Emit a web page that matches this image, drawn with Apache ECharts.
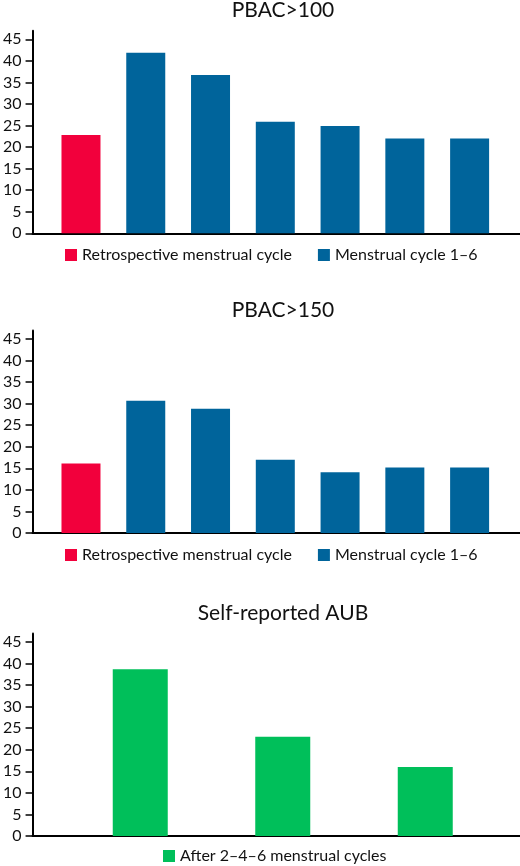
<!DOCTYPE html>
<html>
<head>
<meta charset="utf-8">
<script src="https://cdn.jsdelivr.net/npm/echarts@6/dist/echarts.min.js"></script>
<style>
html, body { margin: 0; padding: 0; background: #fff; }
#main { width: 520px; height: 866px; }
</style>
</head>
<body>
<div id="main"></div>
<script>
// values (percent of women)
var panelTitles = ['PBAC>100', 'PBAC>150', 'Self-reported AUB'];
var cycleCats = ['Retrospective', '1', '2', '3', '4', '5', '6'];
var pbac100 = [22.8, 41.9, 36.7, 25.9, 24.9, 22, 22];
var pbac150 = [16.1, 30.7, 28.8, 17.0, 14.1, 15.2, 15.2];
var aubCats = ['2', '4', '6'];
var selfAub = [38.7, 23.0, 16.0];
var yTicks = [0, 5, 10, 15, 20, 25, 30, 35, 40, 45];

var RETRO = 'Retrospective menstrual cycle';
var CYCLE = 'Menstrual cycle 1\u20136';
var AFTER = 'After 2\u20134\u20136 menstrual cycles';
var red = '#f2003c', blue = '#00649b', green = '#00bf5a';
var font = 'Lato';

var myChart = echarts.init(document.getElementById('main'));

var tops = [30.7, 330.4, 633.4];
var plotH = 202.6;
var grids = [], xAxes = [], yAxes = [], series = [];

tops.forEach(function (t, p) {
    // grid that only carries the visible axis lines
    grids.push({ left: 32, right: 0, top: t, height: plotH });
    // grid where the bars sit
    if (p < 2) grids.push({ left: 48.6, right: 18, top: t, height: plotH });
    else grids.push({ left: 69, right: 23.5, top: t, height: plotH });

    var ai = p * 2, bi = p * 2 + 1;
    xAxes.push({
        gridIndex: ai, type: 'value', min: 0, max: 1,
        axisLine: { show: true, onZero: false, lineStyle: { color: '#000', width: 2 } },
        axisTick: { show: false }, axisLabel: { show: false }, splitLine: { show: false }
    });
    yAxes.push({
        gridIndex: ai, type: 'value', min: 0, max: 47,
        axisLine: { show: true, lineStyle: { color: '#000', width: 2 } },
        axisTick: { show: true, length: 7, customValues: yTicks, lineStyle: { color: '#000', width: 1.5 } },
        axisLabel: { customValues: yTicks, color: '#111', fontFamily: font, fontSize: 16, margin: 11 },
        splitLine: { show: false }
    });
    xAxes.push({
        gridIndex: bi, type: 'category', data: p < 2 ? cycleCats : aubCats, show: false
    });
    yAxes.push({ gridIndex: bi, type: 'value', min: 0, max: 47, show: false });
});

[pbac100, pbac150].forEach(function (vals, p) {
    series.push({
        name: RETRO, type: 'bar', xAxisIndex: p * 2 + 1, yAxisIndex: p * 2 + 1,
        barWidth: 39, barGap: '-100%', itemStyle: { color: red },
        data: vals.map(function (v, i) { return i === 0 ? v : '-'; })
    });
    series.push({
        name: CYCLE, type: 'bar', xAxisIndex: p * 2 + 1, yAxisIndex: p * 2 + 1,
        barWidth: 39, barGap: '-100%', itemStyle: { color: blue },
        data: vals.map(function (v, i) { return i === 0 ? '-' : v; })
    });
});
series.push({
    name: AFTER, type: 'bar', xAxisIndex: 5, yAxisIndex: 5,
    barWidth: 55, itemStyle: { color: green }, data: selfAub
});

var titleTops = [0, 300, 603];
var legendTops = [247, 547, 848];
var legendLefts = [65, 65, 163];

option = {
    animation: false,
    title: panelTitles.map(function (txt, p) {
        return {
            text: txt, left: 283, top: titleTops[p], textAlign: 'center', padding: 0,
            textStyle: { fontFamily: font, fontSize: 21, fontWeight: 'normal', color: '#111' }
        };
    }),
    legend: [[RETRO, CYCLE], [RETRO, CYCLE], [AFTER]].map(function (names, p) {
        return {
            data: names, left: legendLefts[p], top: legendTops[p], padding: 0,
            icon: 'rect', itemWidth: 12, itemHeight: 12, itemGap: 26,
            selectedMode: false,
            textStyle: { fontFamily: font, fontSize: 16, color: '#111' }
        };
    }),
    grid: grids,
    xAxis: xAxes,
    yAxis: yAxes,
    series: series
};
myChart.setOption(option);
</script>
</body>
</html>
